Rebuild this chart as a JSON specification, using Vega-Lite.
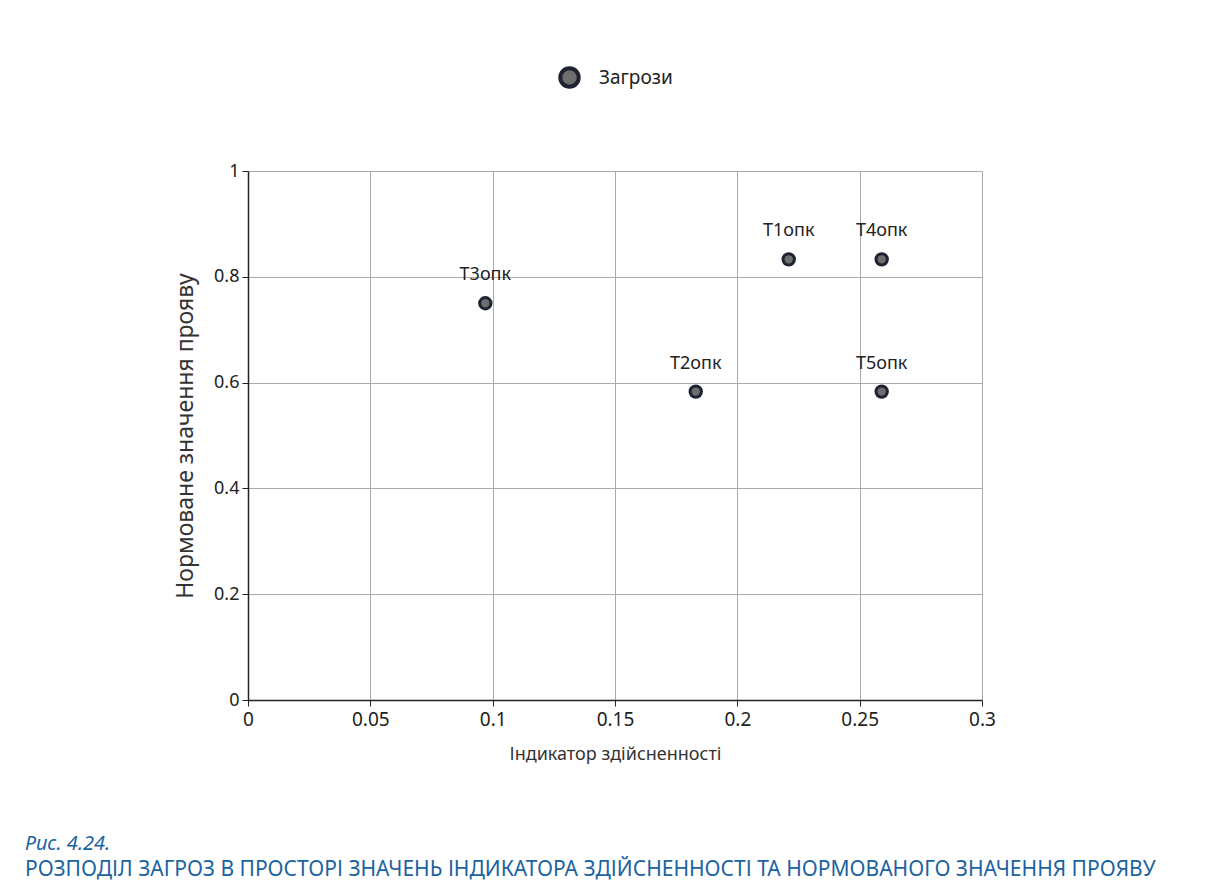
{
  "$schema": "https://vega.github.io/schema/vega-lite/v6.json",
  "width": 734,
  "height": 529,
  "autosize": "none",
  "padding": {"left": 248, "top": 171, "right": 228, "bottom": 183},
  "background": "white",
  "config": {
    "font": "Noto Sans",
    "view": {"stroke": null},
    "axis": {
      "gridColor": "#aaaaaa",
      "gridWidth": 1,
      "gridOpacity": 1,
      "domainColor": "#222222",
      "domainWidth": 1.5,
      "tickColor": "#222222",
      "tickSize": 6,
      "labelColor": "#222222",
      "titleColor": "#333333",
      "titleFontWeight": "normal"
    }
  },
  "title": {
    "text": "Рис. 4.24.",
    "subtitle": "РОЗПОДІЛ ЗАГРОЗ В ПРОСТОРІ ЗНАЧЕНЬ ІНДИКАТОРА ЗДІЙСНЕННОСТІ ТА НОРМОВАНОГО ЗНАЧЕННЯ ПРОЯВУ",
    "orient": "bottom",
    "anchor": "start",
    "frame": "group",
    "dx": -223,
    "offset": 71,
    "color": "#1b63a1",
    "font": "Noto Sans",
    "fontStyle": "italic",
    "fontWeight": "normal",
    "fontSize": 20,
    "subtitleColor": "#1b63a1",
    "subtitleFont": "Noto Sans",
    "subtitleFontSize": 21,
    "subtitlePadding": 5
  },
  "data": {
    "values": [
      {"name": "T1опк", "x": 0.221, "y": 0.833, "series": "Загрози"},
      {"name": "T2опк", "x": 0.183, "y": 0.583, "series": "Загрози"},
      {"name": "T3опк", "x": 0.097, "y": 0.75, "series": "Загрози"},
      {"name": "T4опк", "x": 0.259, "y": 0.833, "series": "Загрози"},
      {"name": "T5опк", "x": 0.259, "y": 0.583, "series": "Загрози"}
    ]
  },
  "encoding": {
    "x": {
      "field": "x",
      "type": "quantitative",
      "scale": {"domain": [0, 0.3], "nice": false, "zero": true},
      "axis": {"values": [0, 0.05, 0.1, 0.15, 0.2, 0.25, 0.3], "format": "~g", "title": "Індикатор здійсненності", "labelFontSize": 19, "titleFontSize": 18, "labelPadding": 4, "titlePadding": 16, "labelFlush": false}
    },
    "y": {
      "field": "y",
      "type": "quantitative",
      "scale": {"domain": [0, 1], "nice": false},
      "axis": {"values": [0, 0.2, 0.4, 0.6, 0.8, 1], "format": "~g", "title": "Нормоване значення прояву", "labelFontSize": 18, "titleFontSize": 23, "labelPadding": 3, "titlePadding": 16, "labelFlush": false}
    }
  },
  "layer": [
    {
      "mark": {"type": "point", "filled": false, "size": 130, "fill": "#6e6e6e", "fillOpacity": 1, "strokeWidth": 3, "opacity": 1},
      "encoding": {
        "stroke": {
          "field": "series",
          "type": "nominal",
          "scale": {"range": ["#1f2230"]},
          "legend": {
            "title": null,
            "orient": "none",
            "legendX": 310,
            "legendY": -105,
            "symbolType": "circle",
            "symbolSize": 340,
            "symbolFillColor": "#6b6b6b",
            "symbolStrokeWidth": 4,
            "symbolOpacity": 1,
            "labelFontSize": 19,
            "labelColor": "#222222",
            "labelOffset": 18,
            "labelFont": "Noto Sans"
          }
        }
      }
    },
    {
      "mark": {"type": "text", "baseline": "alphabetic", "dy": -23, "fontSize": 18, "color": "#222222"},
      "encoding": {"text": {"field": "name"}}
    }
  ]
}
